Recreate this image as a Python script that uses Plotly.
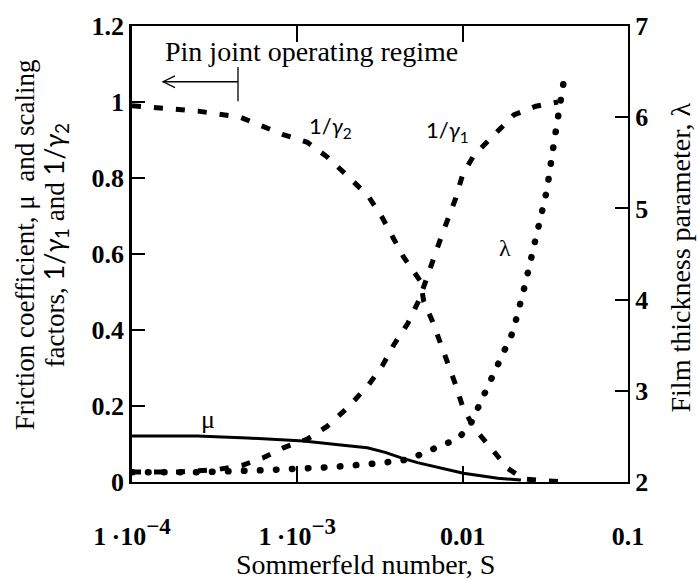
import plotly.graph_objects as go

# ---------------- data ----------------
S_inv_g2 = [1.0e-4, 1.34e-4, 2.51e-4, 4.52e-4, 6.22e-4, 8.22e-4, 1.15e-3, 1.52e-3, 2.04e-3,
            2.69e-3, 3.27e-3, 3.82e-3, 4.39e-3, 5.56e-3, 5.81e-3, 6.58e-3, 7.36e-3, 8.22e-3,
            9.08e-3, 1.0e-2, 1.17e-2, 1.48e-2, 1.87e-2, 2.34e-2, 4.09e-2]
inv_g2 = [0.99, 0.985, 0.976, 0.96, 0.937, 0.914, 0.894, 0.855, 0.803,
          0.752, 0.695, 0.644, 0.592, 0.528, 0.476, 0.422, 0.366, 0.309,
          0.255, 0.198, 0.142, 0.09, 0.036, 0.008, 0.0]

S_inv_g1 = [1.0e-4, 1.87e-4, 3.32e-4, 4.65e-4, 6.22e-4, 8.22e-4, 1.15e-3, 1.52e-3, 2.04e-3,
            2.69e-3, 3.27e-3, 3.82e-3, 4.65e-3, 5.41e-3, 5.97e-3, 6.58e-3, 7.36e-3, 9.08e-3,
            1.0e-2, 1.17e-2, 1.54e-2, 2.04e-2, 2.77e-2, 3.77e-2]
inv_g1 = [0.026, 0.026, 0.033, 0.044, 0.064, 0.09, 0.113, 0.147, 0.198,
          0.255, 0.306, 0.36, 0.417, 0.476, 0.528, 0.585, 0.641, 0.747,
          0.809, 0.86, 0.912, 0.966, 0.989, 1.0]

S_mu = [1.0e-4, 2.48e-4, 4.98e-4, 1.09e-3, 2.09e-3, 2.65e-3, 3.4e-3, 4.21e-3, 5.33e-3,
        7.36e-3, 1.01e-2, 1.63e-2, 2.25e-2]
mu = [0.121, 0.121, 0.116, 0.108, 0.095, 0.090, 0.078, 0.064, 0.051,
      0.036, 0.023, 0.010, 0.005]

S_lam = [1.0e-4, 2.51e-4, 6.22e-4, 1.54e-3, 3.05e-3, 4.71e-3, 7.36e-3, 9.33e-3, 1.10e-2,
         1.34e-2, 1.50e-2, 2.01e-2, 2.38e-2, 2.77e-2, 3.23e-2, 3.56e-2, 3.82e-2, 4.09e-2]
lam = [2.107, 2.107, 2.129, 2.161, 2.204, 2.247, 2.397, 2.472, 2.612,
       2.955, 3.127, 3.642, 4.157, 4.672, 5.197, 5.712, 6.056, 6.399]

SUP = "<sup><span style=\"font-size:23px\">\u2212{}</span></sup>"
x_tickvals = [1e-4, 1e-3, 1e-2, 1e-1]
x_ticktext = ["1\u2009\u00b710" + SUP.format(4), "1\u2009\u00b710" + SUP.format(3), "0.01", "0.1"]
y_tickvals = [0, 0.2, 0.4, 0.6, 0.8, 1.0, 1.2]
y_ticktext = ["0", "0.2", "0.4", "0.6", "0.8", "1", "1.2"]
y2_tickvals = [2, 3, 4, 5, 6, 7]
y2_ticktext = ["2", "3", "4", "5", "6", "7"]

SERIF = "Liberation Serif, Times New Roman, Times, serif"
SANS = "Lato, Open Sans, sans-serif"

fig = go.Figure()
fig.add_trace(go.Scatter(x=S_inv_g2, y=inv_g2, mode="lines",
                         line=dict(color="black", width=5, dash="9px,13px"), showlegend=False))
fig.add_trace(go.Scatter(x=S_inv_g1, y=inv_g1, mode="lines",
                         line=dict(color="black", width=5, dash="9px,13px"), showlegend=False))
fig.add_trace(go.Scatter(x=S_mu, y=mu, mode="lines",
                         line=dict(color="black", width=3), showlegend=False))
fig.add_trace(go.Scatter(x=S_lam, y=lam, mode="lines", yaxis="y2",
                         line=dict(color="black", width=6.5, dash="0.5px,15.5px"), showlegend=False))

tickfont = dict(family=SERIF, size=26, color="black", weight="bold")

fig.update_layout(
    width=698, height=580,
    margin=dict(l=132, r=70, t=16, b=98),
    paper_bgcolor="white", plot_bgcolor="white",
    font=dict(family=SERIF, color="black"),
    xaxis=dict(type="log", range=[-4, -1], tickvals=x_tickvals, ticktext=x_ticktext,
               ticks="inside", ticklen=16, tickwidth=1.5, tickcolor="black",
               showline=True, linewidth=2, linecolor="black", mirror="ticks",
               showgrid=False, zeroline=False, tickfont=tickfont, ticklabelstandoff=30),
    yaxis=dict(range=[0, 1.2], tickvals=y_tickvals, ticktext=y_ticktext,
               ticks="inside", ticklen=13, tickwidth=1.5, tickcolor="black",
               showline=True, linewidth=2.5, linecolor="black",
               showgrid=False, zeroline=False, tickfont=tickfont),
    yaxis2=dict(range=[2, 7], tickvals=y2_tickvals, ticktext=y2_ticktext, overlaying="y", side="right",
                ticks="inside", ticklen=13, tickwidth=1.5, tickcolor="black",
                showline=True, linewidth=2, linecolor="black",
                showgrid=False, zeroline=False, tickfont=tickfont),
)

# axis titles as annotations
g = lambda n: f"<span style=\"font-family:Lato\">1/<i>\u03b3</i><sub>{n}</sub></span>"
ann = [
    dict(text="Sommerfeld number, S", x=0.47, y=-0.18, xref="paper", yref="paper",
         font=dict(family=SERIF, size=28, color="black")),
    dict(text="Friction coefficient, \u03bc  and scaling", x=-0.2157, y=0.519, xref="paper", yref="paper",
         textangle=-90, font=dict(family=SERIF, size=27, color="black")),
    dict(text="factors, " + g(1) + " and " + g(2), x=-0.155, y=0.519, xref="paper", yref="paper",
         textangle=-90, font=dict(family=SERIF, size=27, color="black")),
    dict(text="Film thickness parameter, \u03bb", x=1.105, y=0.4925, xref="paper", yref="paper",
         textangle=-90, font=dict(family=SERIF, size=28, color="black")),
    dict(text="Pin joint operating regime", x=0.0625, y=0.945, xref="paper", yref="paper",
         xanchor="left", font=dict(family=SERIF, size=28, color="black")),
    dict(text="1/<i>\u03b3</i><sub>2</sub>", x=-2.8, y=0.935, xref="x", yref="y",
         font=dict(family=SANS, size=22, color="black")),
    dict(text="1/<i>\u03b3</i><sub>1</sub>", x=-2.091, y=0.925, xref="x", yref="y",
         font=dict(family=SANS, size=22, color="black")),
    dict(text="\u03bb", x=-1.745, y=0.615, xref="x", yref="y",
         font=dict(family=SERIF, size=24, color="black")),
    dict(text="\u03bc", x=-3.539, y=0.165, xref="x", yref="y",
         font=dict(family=SERIF, size=26, color="black")),
]
for a in ann:
    a.setdefault("showarrow", False)
    a.setdefault("xanchor", "center")
    a.setdefault("yanchor", "middle")
fig.update_layout(annotations=ann)

# "operating regime" arrow decoration (paper coordinates)
ARROW_Y = 0.8777
ARROW_X0, ARROW_X1 = 0.0625, 0.2137
line_style = dict(color="black", width=1.3)
fig.add_shape(type="line", xref="paper", yref="paper", x0=ARROW_X0, x1=ARROW_X1, y0=ARROW_Y, y1=ARROW_Y, line=line_style)
fig.add_shape(type="line", xref="paper", yref="paper", x0=ARROW_X1, x1=ARROW_X1, y0=0.8348, y1=0.9099, line=line_style)
fig.add_shape(type="path", xref="paper", yref="paper",
              path=f"M 0.0867 0.8906 L {ARROW_X0} {ARROW_Y} L 0.0867 0.8648", line=line_style)

post = ("var s=document.createElement('style');"
        "s.textContent='.xy2 .scatterlayer path.js-line{stroke-linecap:round}';"
        "document.head.appendChild(s);")
fig.write_html("out.html", post_script=post)
